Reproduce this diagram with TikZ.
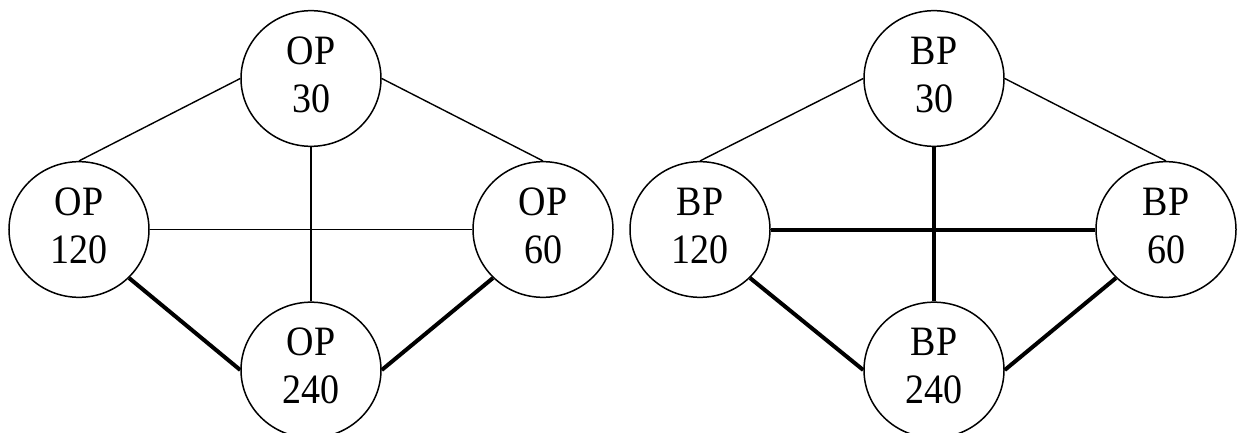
\documentclass[tikz,border=0pt]{standalone}
\usepackage{fontspec}
\setmainfont{Liberation Serif}
\usetikzlibrary{shapes.geometric}
% two-line node label, slightly tall lettering
\newcommand{\plabel}[2]{\scalebox{1}[1.1]{\begin{tabular}{@{}c@{}}#1\\#2\end{tabular}}}
\begin{document}
\begin{tikzpicture}[x=1pt,y=-1pt,
  pnode/.style={draw, ellipse, line width=1.5pt, inner sep=0pt,
    minimum width=140pt, minimum height=134pt, align=center,
    font=\fontsize{38}{43.6}\selectfont},
  thinlink/.style={line width=1.4pt},
  thicklink/.style={line width=4pt}]
\useasboundingbox (0,0) rectangle (1245,433);

% left graph
\node[pnode] (o30)  at (311,78.5)  {\plabel{OP}{30}};
\node[pnode] (o120) at (79,229.5)  {\plabel{OP}{120}};
\node[pnode] (o60)  at (543,229.5) {\plabel{OP}{60}};
\node[pnode] (o240) at (311,370)   {\plabel{OP}{240}};

\draw[thinlink] (o30.west) -- (o120.north);
\draw[thinlink] (o30.east) -- (o60.north);
\draw[thinlink] (o120.east) -- (o60.west);
\draw[thinlink] (o30.south) -- (o240.north);
\draw[thicklink] (o120.south east) -- (o240.west);
\draw[thicklink] (o60.south west) -- (o240.east);

% right graph
\node[pnode] (b30)  at (934,78.5)   {\plabel{BP}{30}};
\node[pnode] (b120) at (700,229.5)  {\plabel{BP}{120}};
\node[pnode] (b60)  at (1166,229.5) {\plabel{BP}{60}};
\node[pnode] (b240) at (934,370)    {\plabel{BP}{240}};

\draw[thinlink] (b30.west) -- (b120.north);
\draw[thinlink] (b30.east) -- (b60.north);
\draw[thicklink] (b120.east) -- (b60.west);
\draw[thicklink] (b30.south) -- (b240.north);
\draw[thicklink] (b120.south east) -- (b240.west);
\draw[thicklink] (b60.south west) -- (b240.east);
\end{tikzpicture}
\end{document}
